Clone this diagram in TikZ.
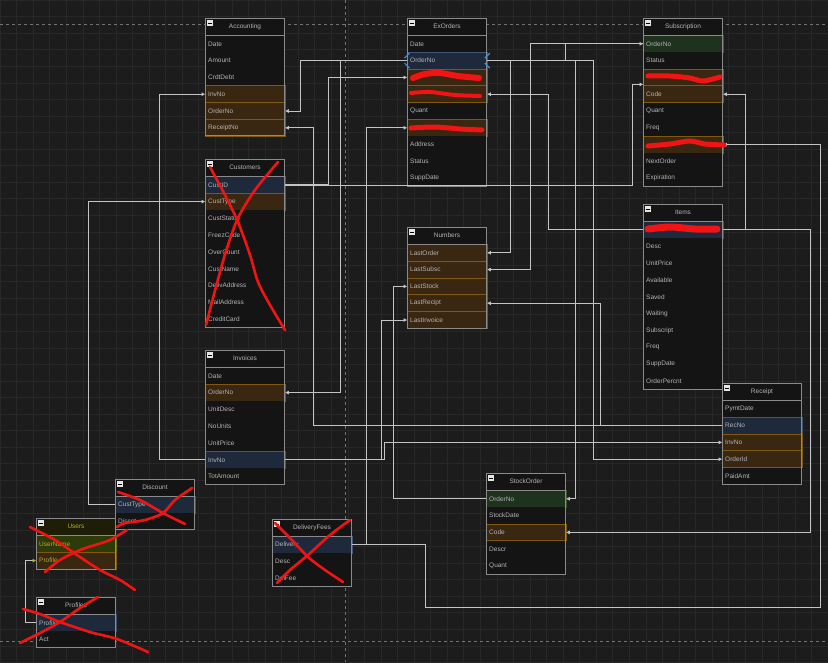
\documentclass[tikz,border=0pt]{standalone}
\usepackage{fontspec}
\setmainfont{Liberation Sans}
\usetikzlibrary{arrows.meta}
\definecolor{bg}{HTML}{1C1C1C}
\definecolor{gridc}{HTML}{272727}
\definecolor{tblbg}{HTML}{141414}
\definecolor{tbord}{HTML}{8A8A8A}
\definecolor{txt}{HTML}{B4B4B4}
\definecolor{keyf}{HTML}{1E2A3C}
\definecolor{keyd}{HTML}{3E5776}
\definecolor{fkf}{HTML}{3A2711}
\definecolor{fkd}{HTML}{80570F}
\definecolor{grf}{HTML}{1F321D}
\definecolor{grd}{HTML}{3F5B34}
\definecolor{conn}{HTML}{C4C4C4}
\definecolor{scr}{HTML}{F01414}
\definecolor{usrhead}{HTML}{1E1E08}
\definecolor{usrtxt}{HTML}{B0B020}
\definecolor{usrf}{HTML}{2E3A08}
\definecolor{usrd}{HTML}{6A7010}
\definecolor{selx}{HTML}{3A90E0}
\tikzset{
  rn/.style={fill=tblbg},
  rk/.style={fill=keyf, draw=keyd},
  rf/.style={fill=fkf, draw=fkd},
  rg/.style={fill=grf, draw=grd},
  ru/.style={fill=usrf, draw=usrd},
  rowbox/.style={rectangle, minimum width=79.5pt, minimum height=16.8pt, anchor=north west, inner sep=0pt, line width=0.8pt},
  rowtext/.style={anchor=west, text=txt, font=\fontsize{6.5}{7}\selectfont, inner sep=0pt},
  titletext/.style={text=txt, font=\fontsize{6.5}{7}\selectfont, inner sep=0pt},
  conn/.style={draw=conn, line width=0.7pt, -{Triangle[length=3.5pt,width=3.5pt]}},
  scribble/.style={draw=scr, line width=2.6pt, line cap=round, line join=round},
  blot/.style={draw=scr, line width=6pt, line cap=round, line join=round},
  selmark/.style={draw=selx, line width=1.2pt},
}
% #1 id, #2 x, #3 y, #4 title, #5 nrows, #6 rows
\newcommand{\dbtable}[6]{%
  \fill[tblbg] (#2,#3) rectangle ++(79.5,17+#5*16.8);
  \foreach \t/\k [count=\i] in {#6} {
    \node[rowbox, \k] (#1-\i) at (#2,#3+17+\i*16.8-16.8) {};
    \node[rowtext] at ([xshift=3pt]#1-\i.west) {\t};
  }
  \draw[tbord, line width=0.8pt] (#2,#3) rectangle ++(79.5,17+#5*16.8);
  \draw[tbord, line width=0.8pt] (#2,#3+17) -- ++(79.5,0);
  \node[titletext] (#1-t) at (#2+40,#3+8.5) {#4};
  \fill[black!10] (#2+2,#3+2) rectangle ++(6,6);
  \draw[black, line width=0.7pt] (#2+3.2,#3+5) -- ++(3.6,0);
}
\begin{document}
\begin{tikzpicture}[x=1pt,y=-1pt]
\fill[bg] (0,0) rectangle (828,662);
\useasboundingbox (0,0) rectangle (828,662);
\foreach \g in {0,1,...,50} {
  \draw[gridc, line width=0.5pt] (\g*16.56,0) -- (\g*16.56,662);
}
\foreach \g in {0,1,...,40} {
  \draw[gridc, line width=0.5pt] (0,\g*16.56) -- (828,\g*16.56);
}
\draw[black!55, dashed, line width=0.7pt] (345,0) -- (345,662);
\draw[black!55, dashed, line width=0.7pt] (0,641) -- (828,641);
\draw[black!55, dashed, line width=0.7pt] (0,24) -- (828,24);

% tables
\dbtable{acc}{205}{18}{Accounting}{6}{Date/rn, Amount/rn, CrdtDebt/rn, InvNo/rf, OrderNo/rf, ReceiptNo/rf}
\dbtable{exo}{407}{18}{ExOrders}{9}{Date/rn, OrderNo/rk, {}/rf, {}/rf, Quant/rn, {}/rf, Address/rn, Status/rn, SuppDate/rn}
\dbtable{sub}{643}{18}{Subscription}{9}{OrderNo/rg, Status/rn, {}/rf, Code/rf, Quant/rn, Freq/rn, {}/rf, NextOrder/rn, Expiration/rn}
\dbtable{cus}{205}{159}{Customers}{9}{CustID/rk, CustType/rf, CustStatus/rn, FreezCode/rn, OverCount/rn, CustName/rn, DelivAddress/rn, MailAddress/rn, CreditCard/rn}
\dbtable{num}{407}{227}{Numbers}{5}{LastOrder/rf, LastSubsc/rf, LastStock/rf, LastRecipt/rf, LastInvoice/rf}
\dbtable{itm}{643}{204}{Items}{10}{{}/rk, Desc/rn, UnitPrice/rn, Available/rn, Saved/rn, Waiting/rn, Subscript/rn, Freq/rn, SuppDate/rn, OrderPercnt/rn}
\dbtable{inv}{205}{350}{Invoices}{7}{Date/rn, OrderNo/rf, UnitDesc/rn, NoUnits/rn, UnitPrice/rn, InvNo/rk, TotAmount/rn}
\dbtable{rec}{722}{383}{Receipt}{5}{PymtDate/rn, RecNo/rk, InvNo/rf, OrderId/rf, PaidAmt/rn}
\dbtable{sto}{486}{473}{StockOrder}{5}{OrderNo/rg, StockDate/rn, Code/rf, Descr/rn, Quant/rn}
\dbtable{dis}{115}{479}{Discount}{2}{CustType/rk, Discnt/rn}
\dbtable{del}{272}{519}{DeliveryFees}{3}{Delivery/rk, Desc/rn, DelFee/rn}
\dbtable{pro}{36}{597}{Profiles}{2}{Profile/rk, Act/rn}
% Users (highlighted)
\fill[usrhead] (36,518) rectangle ++(79.5,51.6);
\node[rowbox, ru] (usr-1) at (36,535) {};
\node[rowtext, text=usrtxt] at ([xshift=3pt]usr-1.west) {UserName};
\node[rowbox, rf] (usr-2) at (36,551.8) {};
\node[rowtext, text=usrtxt] at ([xshift=3pt]usr-2.west) {Profile};
\draw[tbord, line width=0.8pt] (36,518) rectangle ++(79.5,51.6);
\draw[tbord, line width=0.8pt] (36,535) -- ++(79.5,0);
\node[titletext, text=usrtxt] (usr-t) at (76,526.5) {Users};
\fill[black!10] (38,520) rectangle ++(6,6);
\draw[black, line width=0.7pt] (39.2,523) -- ++(3.6,0);

% connectors
\draw[conn] (inv-6.west) -- ++(-46,0) |- (acc-4.west);
\draw[conn] (rec-2.west) -| ([xshift=28pt]acc-6.east) -- (acc-6.east);
\draw[conn] (exo-2.west) -- ++(-107,0) |- (acc-5.east);
\draw[conn] (exo-2.west) -- ++(-67,0) |- (inv-2.east);
\draw[conn] (cus-1.east) -- ++(43,0) |- (exo-3.west);
\draw[conn] ([yshift=-1pt]cus-1.east) -| ([xshift=-11pt,yshift=-7pt]sub-3.west) -- ([yshift=-7pt]sub-3.west);
\draw[conn] (exo-2.east) -- ++(78,0) |- (sub-1.west);
\draw[conn] (exo-2.east) -- ++(88,0) |- (sto-1.east);
\draw[conn] (exo-2.east) -- ++(106,0) |- (rec-4.west);
\draw[conn] (itm-1.west) -- ++(-95,0) |- (exo-4.east);
\draw[conn] (itm-1.east) -- ++(22,0) |- (sub-4.east);
\draw[conn] (itm-1.east) -- ++(87,0) |- (sto-3.east);
\coordinate (d1) at (425,607);
\coordinate (d2) at (820,607);
\draw[conn] (del-1.east) -| (d1) -- (d2) |- (sub-7.east);
\draw[conn] (del-1.east) -- ++(14,0) |- (exo-6.west);
\draw[conn] (exo-2.east) -- ++(23,0) |- (num-1.east);
\draw[conn] (sub-1.west) -- ++(-113,0) |- (num-2.east);
\draw[conn] (sto-1.west) -- ++(-93,0) |- (num-3.west);
\draw[conn] (rec-2.west) -- ++(-122,0) |- (num-4.east);
\draw[conn] (inv-6.east) -- ++(96,0) |- (num-5.west);
\draw[conn] (inv-6.east) -- ++(99,0) |- (rec-3.west);
\draw[conn] (dis-1.west) -- ++(-27,0) |- (cus-2.west);
\draw[draw=conn, line width=0.7pt, -{Triangle[length=3.5pt,width=3.5pt,color=usrtxt]}] (pro-1.west) -- ++(-11,0) |- (usr-2.west);

% selection markers
\foreach \a in {exo-2.west, exo-2.east} {
  \draw[selmark] ([xshift=-2.5pt,yshift=-2.5pt]\a) -- ++(5,5);
  \draw[selmark] ([xshift=-2.5pt,yshift=2.5pt]\a) -- ++(5,-5);
}

% red scribbles
\draw[blot] plot[smooth] coordinates {(413,78) (425,74) (440,73) (458,76) (479,78)};
\draw[blot, line width=4pt] plot[smooth] coordinates {(411,93) (430,92) (455,95) (480,96)};
\draw[blot, line width=5pt] plot[smooth] coordinates {(411,128) (435,127) (460,129) (482,130)};
\draw[blot, line width=5pt] plot[smooth] coordinates {(648,76) (670,76) (690,78) (703,81) (720,77)};
\draw[blot, line width=5pt] plot[smooth] coordinates {(648,146) (670,144) (690,141) (705,144) (724,145)};
\draw[blot, line width=7pt] plot[smooth] coordinates {(648,229) (670,227) (695,229) (717,229)};
% Customers X
\draw[scribble] plot[smooth] coordinates {(210,167) (225,195) (238,222) (250,255) (258,282) (270,305) (285,330)};
\draw[scribble] plot[smooth] coordinates {(278,162) (255,190) (238,218) (227,248) (220,272) (213,298) (206,325)};
% Discount / Users X
\draw[scribble] plot[smooth] coordinates {(118,492) (140,500) (163,513) (185,524)};
\draw[scribble] plot[smooth] coordinates {(192,488) (175,500) (163,513) (145,520) (125,523) (117,527)};
\draw[scribble] plot[smooth] coordinates {(30,527) (55,540) (80,557) (100,570) (120,580) (135,590)};
\draw[scribble] plot[smooth] coordinates {(45,572) (60,560) (80,550) (95,545) (110,540) (127,530)};
% DeliveryFees X
\draw[scribble] plot[smooth] coordinates {(275,523) (292,540) (308,557) (325,570) (343,582)};
\draw[scribble] plot[smooth] coordinates {(350,520) (330,535) (308,555) (290,570) (277,583)};
% Profiles X
\draw[scribble] plot[smooth] coordinates {(23,609) (40,614) (60,622) (90,632) (117,639) (148,652)};
\draw[scribble] plot[smooth] coordinates {(98,597) (80,608) (60,622) (40,633) (20,643)};
\end{tikzpicture}
\end{document}
